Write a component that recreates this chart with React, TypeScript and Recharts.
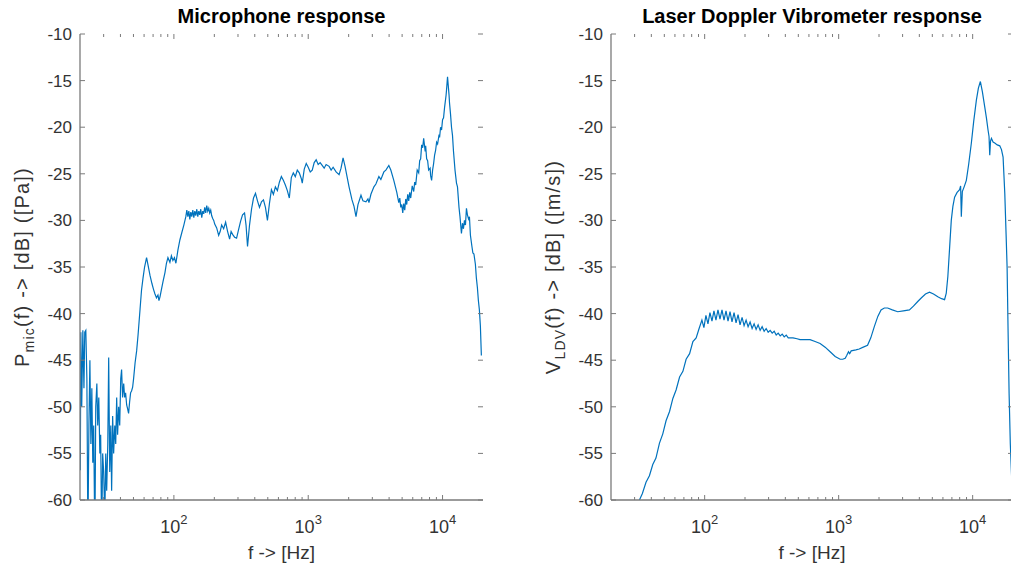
import React from 'react';
import { LineChart, Line, XAxis, YAxis } from 'recharts';

// Microphone spectrum (Hz, dB re 1 Pa)
const micFreq = [
  20.1, 20.3, 20.6, 21.0, 21.4, 21.7, 22.1, 22.5, 22.9, 23.3, 23.7, 24.1, 24.5, 24.9, 25.3, 25.8,
  26.2, 26.7, 27.1, 27.6, 28.1, 28.5, 29.0, 29.5, 30.0, 30.6, 31.1, 31.6, 32.2, 32.7, 33.3, 33.9,
  34.4, 35.0, 35.6, 36.3, 36.9, 37.5, 38.1, 38.8, 39.5, 40.2, 40.8, 41.5, 42.3, 43.0, 43.7, 44.5,
  45.2, 46.0, 46.8, 47.6, 48.4, 49.3, 50.1, 51.4, 52.8, 54.1, 56.0, 57.4, 58.9, 60.5, 62.6, 64.2,
  66.4, 68.7, 70.5, 72.3, 74.2, 76.1, 77.4, 78.8, 80.8, 82.9, 85.8, 88.0, 90.3, 93.4, 95.8, 98.3,
  100.9, 103.5, 107.1, 110.8, 114.6, 118.6,
  122.7, 124.8, 127.0, 129.2, 131.4, 133.6, 135.9, 138.3, 140.7, 143.1, 145.5, 148.1, 150.6, 153.2,
  155.8, 158.5, 161.2, 164.0, 166.8, 169.7, 172.6, 175.6, 178.6, 181.7, 184.8, 188.0, 191.2, 194.5,
  197.9, 201.3,
  208.2, 215.4, 221.0, 226.7, 234.6, 242.7, 251.2, 259.9, 266.6, 273.5, 283.0, 292.9, 303.0, 313.5,
  324.4, 335.7, 344.4, 353.3, 365.6, 378.3, 391.4, 405.0, 419.0, 433.6, 448.7, 464.2, 480.3, 497.0,
  514.2, 532.1, 550.5, 569.6, 589.4, 609.9, 631.0, 652.9, 675.6, 699.0, 723.3, 748.4, 774.3, 801.2,
  829.0, 857.7, 887.5, 902.8, 934.1, 966.5, 1000, 1035, 1071, 1108, 1146, 1186, 1227, 1270, 1314,
  1359, 1431, 1481, 1532, 1612, 1697, 1755, 1817, 1880, 1945, 2013, 2118, 2192, 2268, 2346, 2470,
  2555, 2689, 2783, 2831, 2929, 3083, 3190, 3357, 3473, 3656, 3783, 3981, 4119, 4335, 4563, 4721,
  4803, 4885, 4969, 5054, 5141, 5230, 5321, 5411, 5505, 5599, 5696, 5794, 5944, 6099, 6203, 6310,
  6474, 6642, 6755, 6871, 6990, 7111, 7234, 7424, 7486, 7612, 7743, 7876, 8079, 8147, 8289, 8431,
  8577, 8724, 8874, 9028, 9183, 9421, 9502, 9665, 9831, 10000, 10172, 10347, 10615, 10706, 10889,
  11171, 11269, 11462, 11659, 11860, 12064, 12378, 12697, 12915, 13254, 13480, 13823, 14065, 14304,
  14555, 14806, 15061, 15316, 15717, 15849, 16122, 16543, 16818, 17120, 17553, 17859, 18166, 18478,
  18797, 19120, 19449,
];
const micDb = [
  -56.8, -42, -50, -41.8, -48, -42, -41.8, -47, -64, -52, -45, -54, -48, -56, -52, -65,
  -50, -47.5, -52, -49, -55, -53, -64, -55, -57, -62, -55, -59, -54, -44.7, -57, -52,
  -59, -51, -55, -52, -54, -49, -53, -50, -52, -47, -46, -49, -47.5, -49, -48.5, -49.8,
  -50.2, -50.7, -49.5, -48.5, -48.3, -47.9, -47, -45.3, -44, -42.3, -39.5, -37.5, -36.2, -35, -34, -34.8,
  -35.9, -36.8, -37.4, -37.9, -38.3, -38, -38.6, -38.2, -37.4, -36.6, -35.6, -34.6, -34, -34.5, -33.8, -34.3,
  -34, -34.6, -33.2, -32.1, -31.3, -30.5,
  -29.6, -28.9, -29.6, -29.0, -29.9, -29.1, -29.6, -28.9, -29.7, -29.0, -29.5, -28.8, -29.6, -29.0,
  -29.4, -28.8, -29.7, -29.0, -29.3, -28.6, -29.2, -28.4, -29.0, -28.7, -29.2, -28.9, -29.5, -29.8,
  -30.0, -30.4,
  -30.8, -31.6, -31.2, -30.5, -30.9, -30.2, -31.2, -32.0, -31.2, -31.5, -31.8, -31.9, -31.0, -30.1,
  -29.4, -29.2, -30.5, -32.8, -30.5, -28.8, -27.6, -27.1, -27.9, -28.6, -28.0, -27.8, -28.6, -30.0,
  -28.2, -26.7, -27.2, -26.4, -26.8, -25.9, -25.3, -25.7, -26.2, -26.8, -27.6, -25.4, -24.9, -25.3,
  -24.6, -24.9, -25.5, -26.0, -24.5, -23.9, -24.3, -24.8, -24.6, -23.8, -23.5, -24.0, -23.8, -24.1, -24.4,
  -24.0, -24.2, -24.6, -24.3, -24.8, -25.1, -24.4, -23.3, -24.2, -25.3, -26.4, -27.8, -28.5, -29.6, -28.3, -27.3,
  -27.9, -28.0, -27.7, -28.1, -27.2, -26.4, -26.1, -25.3, -25.6, -24.8, -24.6, -24.1, -24.6, -25.7, -27.0, -28.1,
  -27.6, -28.6, -28.3, -29.2, -28.2, -28.9, -27.7, -28.3, -27.2, -27.9, -27.0, -27.6, -26.3, -26.9, -25.9, -26.2,
  -24.6, -24.9, -23.6, -23.4, -21.9, -22.2, -21.2, -22.6, -22.0, -23.4, -23.6, -24.6, -24.4, -25.2, -25.7, -24.6,
  -23.9, -23.0, -22.5, -21.6, -21.8, -20.8, -21.1, -20.0, -20.3, -19.2, -19.0, -17.9, -16.6, -16.0, -14.6,
  -16.5, -17.4, -18.6, -20.0, -20.9, -22.6, -24.6, -26.0, -26.4, -28.6, -29.6, -31.4, -30.3, -30.9,
  -30.0, -30.5, -28.7, -29.4, -30.0, -29.6, -31.6, -32.8, -33.5, -33.6, -34.7, -36.2, -37.2, -38.6,
  -39.6, -41.3, -44.5,
];

// Laser Doppler vibrometer spectrum (Hz, dB re 1 m/s)
const ldvFreq = [
  30.9, 32.6, 34.3, 36.5, 38.7, 41.0, 43.3, 46.0, 48.7, 51.5, 54.7, 57.9, 61.2, 65.0, 68.8, 72.7,
  77.2, 81.7, 86.4, 90.9,
  95.4, 98.7, 102.2, 105.8, 109.5, 113.4, 117.3, 121.4, 125.7, 130.1, 134.7, 139.4, 144.3, 149.4,
  154.6, 160.0, 165.7, 171.5, 177.5, 183.7, 190.2, 196.9, 203.8, 210.9, 218.3, 226.0, 233.9, 242.1,
  250.6, 259.4, 268.5, 277.9, 287.7, 297.8, 308.2, 319.1, 330.3, 341.9, 353.8, 366.3, 379.1, 392.4,
  406.2, 420.5,
  456.2, 488.8, 514.6, 561.2, 611.8, 666.8, 727.0, 792.5, 863.8, 941.5, 1026, 1072, 1119, 1148, 1184,
  1209, 1240, 1345, 1424, 1526, 1643, 1737, 1845, 1960, 2071, 2192, 2320, 2516, 2757, 3042, 3374,
  3614, 3893, 4150, 4445, 4764, 5104, 5495, 5860, 6171, 6353, 6531, 6725, 6925, 7120, 7333, 7655,
  7991, 8131, 8230, 8373, 8638, 8970, 9333, 9779, 10174, 10659, 11033, 11420, 11822, 12297, 12667,
  13022, 13249, 13410, 13596, 13809, 14195, 14616, 15259, 15932, 16408, 16866, 17368, 17762, 18071,
  18385, 18706, 19097, 19596,
];
const ldvDb = [
  -60.9, -60.0, -59.3, -58.1, -57.4, -56.2, -55.5, -53.9, -52.9, -51.5, -50.5, -49.1, -48.2, -46.8, -46.2, -44.9,
  -44.3, -43.0, -42.6, -41.6,
  -40.7, -41.5, -40.2, -41.1, -39.9, -40.8, -39.7, -40.7, -39.6, -40.6, -39.6, -40.7, -39.7, -40.8,
  -39.8, -40.9, -39.9, -41.0, -40.1, -41.2, -40.4, -41.3, -40.7, -41.4, -40.9, -41.6, -41.1, -41.7,
  -41.2, -41.8, -41.4, -41.9, -41.6, -42.0, -41.8, -42.1, -41.9, -42.3, -42.1, -42.4, -42.2, -42.5,
  -42.3, -42.6,
  -42.6, -42.7, -42.8, -42.8, -42.8, -43.0, -43.2, -43.6, -44.1, -44.6, -44.9, -44.9, -44.8, -44.5, -44.1,
  -44.3, -44.0, -43.9, -43.8, -43.6, -43.4, -42.6, -41.4, -40.3, -39.6, -39.4, -39.4, -39.6, -39.8, -39.7, -39.6,
  -39.2, -38.7, -38.3, -37.9, -37.7, -37.9, -38.2, -38.4, -38.5, -37.8, -36.0, -33.0, -30.0, -28.5, -27.5, -27.0,
  -26.7, -26.3, -29.6, -26.9, -26.4, -25.7, -24.0, -21.7, -19.4, -17.1, -15.8, -15.1, -16.2, -17.8, -19.0,
  -20.3, -21.0, -23.0, -21.5, -21.2, -21.6, -21.7, -21.9, -22.0, -22.4, -23.2, -27.1, -31.5, -35.0,
  -42.0, -48.6, -54.0, -58.0,
];

const freqTicks = [
  30, 40, 50, 60, 70, 80, 90, 100,
  200, 300, 400, 500, 600, 700, 800, 900, 1000,
  2000, 3000, 4000, 5000, 6000, 7000, 8000, 9000, 10000,
];
const dbTicks = [-60, -55, -50, -45, -40, -35, -30, -25, -20, -15, -10];

const micData = micFreq.map((f, i) => ({ f, db: micDb[i] }));
const ldvData = ldvFreq.map((f, i) => ({ f, db: ldvDb[i] }));

const FONT = '"Liberation Sans", Arial, Helvetica, sans-serif';
const AXIS = '#7a7a7a';
const TEXT = '#333333';
const LINE = '#0072BD';

const CHART_W = 500;
const CHART_H = 566;
const PLOT_LEFT = 80;
const PLOT_TOP = 34;
const PLOT_BOTTOM = 500;

interface PanelProps {
  data: { f: number; db: number }[];
  title: string;
  yName: string;
  ySub: string;
  yRest: string;
  rightMargin: number;
}

function Panel({ data, title, yName, ySub, yRest, rightMargin }: PanelProps) {
  const plotRight = CHART_W - rightMargin;
  const midY = (PLOT_TOP + PLOT_BOTTOM) / 2;
  const midX = (PLOT_LEFT + plotRight) / 2;

  // log axis: decades get a label and a longer inward tick, the rest a short one
  const XTick = (props: any) => {
    const { x, payload } = props;
    const e = Math.log10(payload.value);
    const major = Math.abs(e - Math.round(e)) < 1e-9;
    const len = major ? 5 : 3;
    return (
      <g>
        <line x1={x} x2={x} y1={PLOT_BOTTOM} y2={PLOT_BOTTOM - len} stroke={AXIS} />
        <line x1={x} x2={x} y1={PLOT_TOP} y2={PLOT_TOP + len} stroke={AXIS} />
        {major && (
          <text x={x} y={PLOT_BOTTOM + 33} textAnchor="middle" fontFamily={FONT} fontSize={18} fill={TEXT}>
            <tspan>10</tspan>
            <tspan dy={-9} fontSize={13}>{Math.round(e)}</tspan>
          </text>
        )}
      </g>
    );
  };

  const YTick = (props: any) => {
    const { y, payload } = props;
    return (
      <g>
        <line x1={PLOT_LEFT} x2={PLOT_LEFT + 5} y1={y} y2={y} stroke={AXIS} />
        <line x1={plotRight} x2={plotRight - 5} y1={y} y2={y} stroke={AXIS} />
        <text x={PLOT_LEFT - 8} y={y} dy="0.35em" textAnchor="end" fontFamily={FONT} fontSize={17} fill={TEXT}>
          {payload.value}
        </text>
      </g>
    );
  };

  const xLabel = (
    <text x={midX} y={559} textAnchor="middle" fontFamily={FONT} fontSize={19} fill={TEXT}>
      {'f -> [Hz]'}
    </text>
  );
  const yLabel = (
    <text
      x={29}
      y={midY}
      transform={`rotate(-90, 29, ${midY})`}
      textAnchor="middle"
      fontFamily={FONT}
      fontSize={20}
      letterSpacing={1.2}
      fill={TEXT}
    >
      <tspan>{yName}</tspan>
      <tspan dy={5} fontSize={14}>{ySub}</tspan>
      <tspan dy={-5}>{yRest}</tspan>
    </text>
  );

  const axisLine = { stroke: AXIS, strokeWidth: 1.3 };

  return (
    <div style={{ position: 'relative', width: CHART_W, height: CHART_H }}>
      <div
        style={{
          position: 'absolute',
          left: PLOT_LEFT,
          width: plotRight - PLOT_LEFT,
          top: 6,
          textAlign: 'center',
          fontFamily: FONT,
          fontSize: 20,
          lineHeight: '20px',
          fontWeight: 'bold',
          color: '#000',
          whiteSpace: 'nowrap',
        }}
      >
        {title}
      </div>
      <LineChart
        width={CHART_W}
        height={CHART_H}
        data={data}
        margin={{ top: PLOT_TOP, right: rightMargin, bottom: 0, left: 0 }}
      >
        <XAxis
          dataKey="f"
          type="number"
          scale="log"
          domain={[20, 20000]}
          allowDataOverflow
          ticks={freqTicks}
          interval={0}
          tick={XTick}
          tickLine={false}
          axisLine={axisLine}
          height={CHART_H - PLOT_BOTTOM}
          label={() => xLabel}
        />
        <XAxis
          xAxisId="top"
          orientation="top"
          type="number"
          scale="log"
          domain={[20, 20000]}
          allowDataOverflow
          height={0}
          tick={false}
          tickLine={false}
          axisLine={axisLine}
        />
        <YAxis
          type="number"
          domain={[-60, -10]}
          allowDataOverflow
          ticks={dbTicks}
          interval={0}
          tick={YTick}
          tickLine={false}
          axisLine={axisLine}
          width={PLOT_LEFT}
          label={() => yLabel}
        />
        <YAxis
          yAxisId="right"
          orientation="right"
          type="number"
          domain={[-60, -10]}
          allowDataOverflow
          width={0}
          tick={false}
          tickLine={false}
          axisLine={axisLine}
        />
        <Line
          type="linear"
          dataKey="db"
          stroke={LINE}
          strokeWidth={1.2}
          dot={false}
          isAnimationActive={false}
        />
      </LineChart>
    </div>
  );
}

export default function App() {
  return (
    <div
      style={{
        position: 'absolute',
        left: 0,
        top: 0,
        width: 1011,
        height: 566,
        overflow: 'hidden',
        background: '#fff',
      }}
    >
      <div style={{ position: 'absolute', left: 0, top: 0 }}>
        <Panel
          data={micData}
          title="Microphone response"
          yName="P"
          ySub="mic"
          yRest="(f) -> [dB] ([Pa])"
          rightMargin={17}
        />
      </div>
      <div style={{ position: 'absolute', left: 531, top: 0 }}>
        <Panel
          data={ldvData}
          title="Laser Doppler Vibrometer response"
          yName="V"
          ySub="LDV"
          yRest="(f) -> [dB] ([m/s])"
          rightMargin={18}
        />
      </div>
    </div>
  );
}
